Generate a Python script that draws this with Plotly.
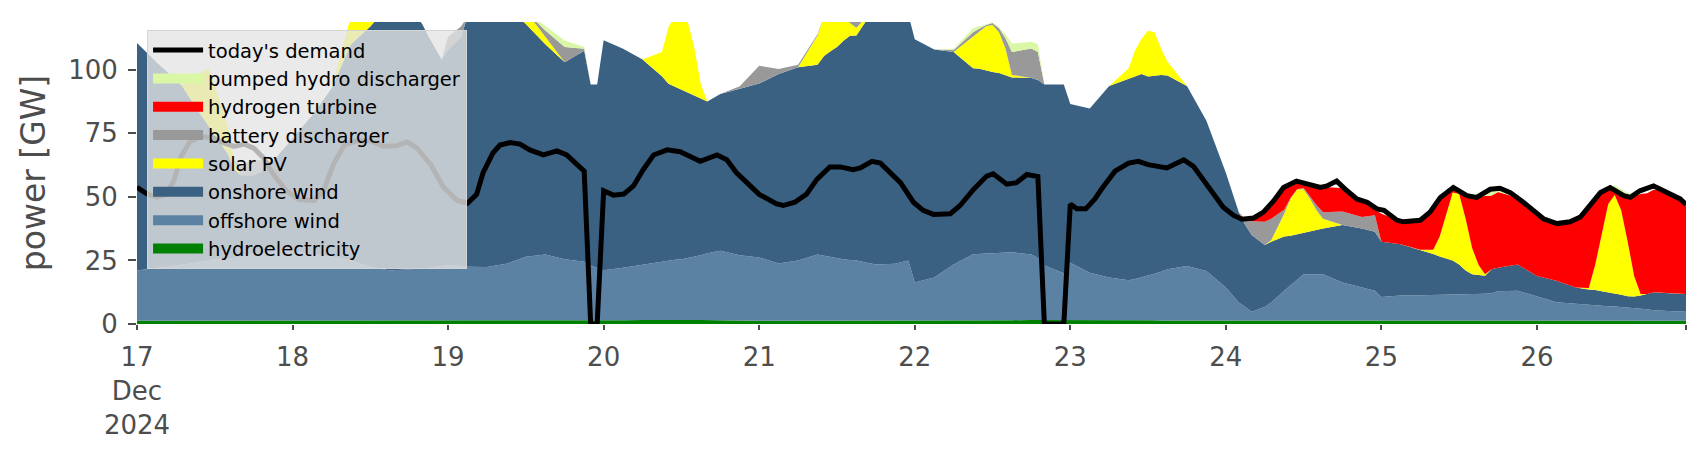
import pandas as pd
import plotly.graph_objects as go

START = pd.Timestamp("2024-12-17 00:00")

# ---- stacked generation, hours since 17 Dec 2024 00:00 (one row per day) ----
hours = [
    0, 3, 6, 7, 9, 11, 12, 14, 15, 16, 18, 20, 21,
    24, 27, 30, 33, 36, 37, 39, 42, 44, 45, 47,
    48, 50, 51, 54, 57, 60, 63, 66, 69, 70, 71,
    72, 75, 78, 81, 82, 83, 84, 85, 86, 87, 88, 90, 93,
    96, 99, 102, 105, 106, 107, 108, 109, 110, 111, 114, 117, 119,
    120, 123, 126, 129, 130, 131, 132, 133, 134, 135, 138, 139, 140, 143,
    144, 147, 150, 153, 154, 155, 156, 157, 158, 159, 162, 165,
    168, 170, 171, 172, 174, 175, 177, 178, 179, 180, 181, 182, 183, 186, 189, 191,
    192, 195, 198, 200, 201, 202, 203, 204, 205, 206, 207, 208, 209, 210, 213,
    216, 219, 222, 224, 225, 226, 227, 228, 229, 230, 231, 232, 233, 234, 235, 237, 239,
]

hydroelectricity = [
    1.3, 1.3, 1.3, 1.3, 1.3, 1.3, 1.3, 1.3, 1.3, 1.3, 1.3, 1.3, 1.3,
    1.3, 1.3, 1.3, 1.3, 1.3, 1.3, 1.3, 1.3, 1.3, 1.3, 1.3,
    1.3, 1.3, 1.3, 1.3, 1.3, 1.3, 1.3, 1.3, 1.3, 1.3, 1.3,
    1.3, 1.5, 1.6, 1.7, 1.7, 1.7, 1.7, 1.7, 1.6, 1.6, 1.6, 1.5, 1.4,
    1.3, 1.3, 1.3, 1.3, 1.3, 1.3, 1.3, 1.3, 1.3, 1.3, 1.3, 1.3, 1.3,
    1.3, 1.3, 1.3, 1.3, 1.3, 1.3, 1.3, 1.3, 1.4, 1.5, 1.6, 1.6, 1.7, 1.7,
    1.7, 1.6, 1.6, 1.5, 1.5, 1.5, 1.5, 1.5, 1.4, 1.4, 1.4, 1.3,
    1.3, 1.3, 1.3, 1.3, 1.3, 1.3, 1.3, 1.3, 1.3, 1.3, 1.3, 1.3, 1.3, 1.3, 1.3, 1.3,
    1.3, 1.3, 1.3, 1.3, 1.3, 1.3, 1.3, 1.3, 1.3, 1.3, 1.3, 1.3, 1.3, 1.3, 1.3,
    1.3, 1.3, 1.3, 1.3, 1.3, 1.3, 1.3, 1.3, 1.3, 1.3, 1.3, 1.3, 1.3, 1.3, 1.3, 1.3, 1.3,
]

offshore_wind = [
    19.7, 20.7, 21.7, 22.0, 22.7, 23.7, 24.2, 24.7, 24.7, 25.2, 26.2, 26.7, 27.2,
    27.2, 26.2, 25.2, 23.7, 21.2, 20.7, 19.7, 20.2, 20.5, 20.7, 21.5,
    21.9, 21.5, 21.2, 21.1, 22.4, 25.2, 26.0, 24.2, 23.2, 21.7, 20.7,
    19.8, 20.6, 21.8, 23.0, 23.3, 23.6, 23.8, 24.3, 24.7, 25.4, 26.2, 27.3, 25.6,
    24.9, 22.5, 23.7, 26.0, 25.5, 24.9, 24.4, 24.2, 23.9, 23.7, 22.1, 22.4, 23.7,
    15.0, 17.0, 22.1, 26.1, 26.2, 26.4, 26.5, 26.6, 26.6, 26.7, 25.7, 24.4, 21.3, 18.3,
    22.4, 18.6, 16.7, 15.7, 16.2, 16.8, 17.4, 18.3, 19.2, 20.1, 21.4, 19.5,
    13.1, 7.2, 5.4, 3.5, 5.4, 7.2, 11.8, 14.0, 16.2, 18.3, 18.3, 18.3, 18.3, 15.0, 13.1, 11.8,
    9.3, 9.9, 10.0, 10.1, 10.2, 10.2, 10.3, 10.3, 10.3, 10.3, 10.3, 10.6, 10.8, 11.6, 11.8,
    9.5, 7.3, 6.7, 6.2, 6.0, 5.9, 5.7, 5.6, 5.4, 5.2, 5.0, 4.7, 4.5, 4.1, 3.9, 3.7, 3.5,
]

onshore_wind = [
    89.5, 81.0, 73.0, 70.2, 61.5, 53.0, 48.5, 41.0, 35.0, 32.0, 31.0, 33.0, 35.5,
    44.5, 54.5, 66.0, 85.0, 94.5, 98.0, 104.0, 103.5, 96.2, 91.0, 81.2,
    84.8, 90.2, 98.5, 102.6, 101.3, 91.5, 82.7, 77.5, 83.0, 71.2, 72.2,
    90.5, 86.2, 80.6, 72.8, 69.5, 68.0, 66.8, 64.9, 63.4, 61.7, 59.7, 61.7, 65.5,
    68.4, 74.5, 76.0, 74.7, 78.6, 81.1, 83.3, 85.9, 88.2, 88.5, 101.6, 101.3, 97.0,
    95.7, 89.7, 83.6, 73.2, 72.9, 72.0, 71.3, 70.8, 70.0, 68.8, 69.5, 70.0, 71.2, 74.2,
    62.4, 64.6, 75.3, 79.2, 79.7, 80.0, 78.5, 78.0, 77.4, 76.3, 70.8, 59.2,
    45.1, 35.5, 32.2, 30.2, 24.4, 23.9, 21.3, 19.4, 17.8, 16.0, 16.7, 17.3, 18.0, 22.6, 23.2, 23.2,
    21.8, 20.2, 17.9, 16.1, 15.1, 14.2, 13.4, 11.8, 9.4, 8.0, 7.6, 7.1, 9.4, 9.2, 10.3,
    8.1, 8.4, 6.4, 6.1, 6.1, 5.7, 5.5, 5.2, 4.8, 4.4, 4.5, 5.2, 6.0, 7.1, 7.1, 7.1, 7.0,
]

solar_pv = [
    0, 0, 0, 0.5, 12, 22.5, 20, 11, 3, 0, 0, 0, 0,
    0, 0, 0, 11, 12, 10, 4, 0, 0, 0, 0,
    0, 0, 0, 5, 8, 5, 3, 0, 0, 0, 0,
    0, 0, 0, 9.5, 22.2, 28, 30, 27.8, 18.8, 5.5, 0, 0, 0,
    0, 0, 0, 11.5, 16, 15, 12, 10, 5, 3, 0, 0, 0,
    0, 0, 0, 12.3, 14.8, 17.4, 18.5, 16.1, 10.4, 1, 0, 0, 0, 0,
    0, 0, 0, 4.2, 10.3, 13.9, 18, 17, 10.4, 5.4, 0, 0,
    0, 0, 0, 0, 0, 0.5, 9, 14.7, 17.7, 17.4, 12.9, 7.8, 3.8, 0, 0, 0,
    0, 0, 0, 1.7, 7.8, 17.7, 26.7, 27.7, 20.4, 10.3, 4, 0.6, 0, 0, 0,
    0, 0, 0, 0.6, 10, 22.7, 34.7, 38.6, 33.2, 21.5, 8.1, 0.6, 0, 0, 0, 0, 0,
]

battery_discharger = [
    0, 0, 0, 0, 0, 0, 0, 0, 0, 4, 6, 3, 0,
    0, 0, 0, 0, 0, 0, 0, 0, 0, 0, 0,
    5, 4, 0, 0, 0, 0, 2.5, 6, 0.8, 0, 0,
    0, 0, 0, 0, 0, 0, 0, 0, 0, 0, 0, 0, 1,
    7, 2, 1, 0.5, 0, 0, 0, 0, 1.5, 3, 0, 0, 0,
    0, 0, 0.8, 1.9, 1.0, 0.5, 0.8, 1.5, 4, 9, 11.6, 11, 0, 0,
    0, 0, 0, 0, 0, 0, 0, 0, 0, 0, 0, 0,
    0, 0, 1.9, 5.4, 9.1, 8.5, 1.5, 0.3, 0, 0.5, 1, 2, 2.6, 5.4, 4.5, 6.5,
    0, 0, 0, 0, 0, 0, 0, 0, 0, 0, 0, 0, 0, 0, 0,
    0, 0, 0, 0, 0, 0, 0, 0, 0, 0, 0, 0, 0, 0, 0, 0, 0,
]

hydrogen_turbine = [
    0, 0, 0, 0, 0, 0, 0, 0, 0, 0, 0, 0, 0,
    0, 0, 0, 0, 0, 0, 0, 0, 0, 0, 0,
    0, 0, 0, 0, 0, 0, 0, 0, 0, 0, 0,
    0, 0, 0, 0, 0, 0, 0, 0, 0, 0, 0, 0, 0,
    0, 0, 0, 0, 0, 0, 0, 0, 0, 0, 0, 0, 0,
    0, 0, 0, 0, 0, 0, 0, 0, 0, 0, 0, 0, 0, 0,
    0, 0, 0, 0, 0, 0, 0, 0, 0, 0, 0, 0,
    0, 0, 0.4, 1.1, 4.3, 5.6, 9, 5.6, 3.2, 2.1, 4.8, 7.3, 9.9, 9.2, 6.4, 2.5,
    11, 9.1, 11.6, 16.5, 14.8, 8.6, 2, 1.3, 9.2, 20.1, 27, 30.7, 29, 29.8, 26.4,
    25.1, 22.5, 26.8, 31.8, 25.2, 16.4, 6.3, 2.3, 6.3, 17.6, 31.8, 39.3, 39.6, 40.3, 40.2, 39.3, 35.1,
]

pumped_hydro_discharger = [
    0, 0, 0, 0, 0, 0, 0, 0, 0, 0, 0, 0, 0,
    0, 0, 0, 0, 0, 0, 0, 0, 0, 0, 0,
    0, 0, 0, 0, 0, 0, 1.6, 2.5, 0.7, 0, 0,
    0, 0, 0, 0, 0, 0, 0, 0, 0, 0, 0, 0, 0,
    0, 0, 0, 0, 0, 0, 0, 0, 0, 0, 0, 0, 0,
    0, 0, 0.5, 1.5, 1.0, 0.5, 0.3, 0.5, 1.5, 3.3, 2.6, 3, 0, 0,
    0, 0, 0, 0, 0, 0, 0, 0, 0, 0, 0, 0,
    0, 0, 0, 0, 0, 0, 0, 0, 0, 0, 0, 0, 0, 0, 0, 0,
    0, 0, 0, 0, 0, 0, 0, 0, 0, 0, 0, 1.5, 2.5, 1.5, 0,
    0, 0, 0, 0, 0, 0, 0, 1.5, 2, 1.5, 0.5, 0, 0, 0, 0, 0, 0,
]

# ---- demand line ----
demand_hours = [
    0, 1.5, 3, 4.5, 5.7, 6.7, 8.2, 9.8, 11.8, 13.4, 15, 16.5, 18, 19.5, 21, 23,
    25, 27.3, 28.8, 30.3, 32, 34, 36, 38, 40, 41.7, 43.2, 45.3, 47.3, 49.4,
    51, 52.4, 53.4, 54.9, 56, 57.6, 59.1, 60.6, 62.7, 64.8, 66.3, 67.8, 69, 70, 71,
    72, 73.5, 75.1, 76.6, 78.1, 79.7, 81.8, 83.8, 86.9, 89.5, 91, 92.5, 94.1,
    96, 98.7, 99.7, 101.5, 103.3, 104.9, 106.9, 108.5, 110.5, 111.6, 113.4, 114.7,
    116.2, 117.8, 119.8, 121.3, 122.9, 125.5, 127, 129.1, 131.1, 132.1, 134.2,
    135.7, 137.3, 139, 140, 143,
    144, 145, 146.4, 147.8, 148.8, 150.9, 153, 154.5, 156, 158.9, 160, 161.5,
    163, 164.5, 166.1, 167.6, 169.2, 170.5, 172.3, 173.8, 175.4, 176.9, 178.9,
    181, 182.6, 183.6, 185.1, 186.7, 188.2, 189.8, 191.3, 192.4, 194.4, 195.4,
    198, 199.5, 201.1, 203.1, 205.2, 206.7, 208.8, 210.3, 211.9, 213.9, 215.5,
    217, 219.1, 221.1, 222.7, 224.2, 225.8, 227.3, 229.4, 230.4, 231.9, 234,
    236, 238.1, 239,
]
demand_gw = [
    53.8, 51.2, 49.9, 51.0, 56.4, 65.4, 71.8, 73.8, 73.1, 71.2, 69.9, 70.8, 69.2, 65.4, 59.0, 52.5,
    49.0, 48.6, 52.5, 62.8, 70.5, 72.1, 72.1, 69.9, 70.1, 71.6, 69.2, 62.8, 53.8, 48.6,
    47.5, 51.0, 59.5, 67.2, 70.4, 71.4, 70.8, 68.5, 66.5, 68.1, 66.5, 63.3, 60.1, 0, 0,
    52.4, 50.7, 51.1, 54.3, 60.7, 66.5, 68.5, 67.8, 64.0, 66.5, 64.6, 59.5, 55.6,
    51.0, 47.2, 46.6, 47.9, 51.1, 56.9, 61.8, 61.8, 60.7, 61.4, 64.0, 63.3,
    59.5, 55.6, 47.9, 44.7, 43.1, 43.4, 46.6, 53.0, 58.2, 59.1, 55.0,
    55.6, 58.8, 58.0, 0, 0,
    47.2, 45.3, 45.3, 49.2, 53.0, 60.1, 63.3, 64.0, 62.7, 61.4, 62.7, 64.6,
    62.0, 56.9, 51.7, 45.9, 42.7, 41.2, 41.7, 44.0, 48.5, 53.7, 56.2,
    55.0, 53.7, 54.3, 56.2, 52.4, 49.2, 47.9, 45.3, 44.7, 40.8, 40.2,
    40.8, 44.0, 49.8, 53.7, 50.5, 49.8, 53.0, 53.4, 51.7, 47.9, 44.7,
    41.4, 39.5, 40.2, 42.1, 46.6, 51.7, 53.7, 50.5, 49.8, 52.4, 54.3,
    51.7, 49.2, 47.0,
]

# ---- axis ticks ----
tick_days = [17, 18, 19, 20, 21, 22, 23, 24, 25, 26]
tick_labels = ["17<br>Dec<br>2024", "18", "19", "20", "21", "22", "23", "24", "25", "26"]
y_ticks = [0, 25, 50, 75, 100]

x = START + pd.to_timedelta(hours, unit="h")
dx = START + pd.to_timedelta(demand_hours, unit="h")
x_end = START + pd.Timedelta(hours=239)

series = [
    ("hydroelectricity", hydroelectricity, "#008000"),
    ("offshore wind", offshore_wind, "#5b82a3"),
    ("onshore wind", onshore_wind, "#3b6182"),
    ("solar PV", solar_pv, "#ffff00"),
    ("battery discharger", battery_discharger, "#999999"),
    ("hydrogen turbine", hydrogen_turbine, "#ff0000"),
    ("pumped hydro discharger", pumped_hydro_discharger, "#daf7a6"),
]

fig = go.Figure()
for name, vals, color in series:
    fig.add_trace(go.Scatter(
        x=x, y=vals, name=name, mode="lines", stackgroup="gen",
        line=dict(width=0, color=color), fillcolor=color,
        showlegend=False, legendgroup=name,
    ))
fig.add_trace(go.Scatter(
    x=dx, y=demand_gw, name="today's demand", mode="lines",
    line=dict(color="black", width=5),
))
# legend swatches (wide patches), top to bottom
for name, vals, color in reversed(series):
    fig.add_trace(go.Scatter(
        x=[None], y=[None], name=name, mode="lines",
        line=dict(color=color, width=14), legendgroup=name,
    ))

FONT = "DejaVu Sans"
GREY = "#4d4d4d"
tickvals = [pd.Timestamp(2024, 12, d) for d in tick_days] + [x_end]
ticktext = tick_labels + [""]

fig.update_layout(
    width=1690, height=444,
    margin=dict(l=129, r=12, t=14, b=123),
    paper_bgcolor="white", plot_bgcolor="white",
    font=dict(family=FONT, color=GREY),
    showlegend=True,
    legend=dict(
        x=0.0065, y=0.974, xanchor="left", yanchor="top",
        bgcolor="rgba(228,228,228,0.79)", bordercolor="#d4d4d4", borderwidth=1,
        font=dict(family=FONT, size=19.5, color="black"),
        traceorder="normal", itemwidth=50,
    ),
    xaxis=dict(
        range=[START, x_end], tickvals=tickvals, ticktext=ticktext,
        showgrid=False, zeroline=False, showline=False,
        ticks="outside", ticklen=5, tickwidth=1.5, tickcolor=GREY,
        ticklabelstandoff=5,
        tickfont=dict(family=FONT, size=26, color=GREY),
    ),
    yaxis=dict(
        range=[0, 118.8], tickvals=y_ticks,
        showgrid=False, zeroline=False, showline=False,
        ticks="outside", ticklen=8, tickwidth=1.5, tickcolor=GREY,
        ticklabelstandoff=5,
        tickfont=dict(family=FONT, size=26, color=GREY),
        title=dict(text="power [GW]", font=dict(family=FONT, size=33, color=GREY), standoff=12),
    ),
)

fig.write_html("out.html")
